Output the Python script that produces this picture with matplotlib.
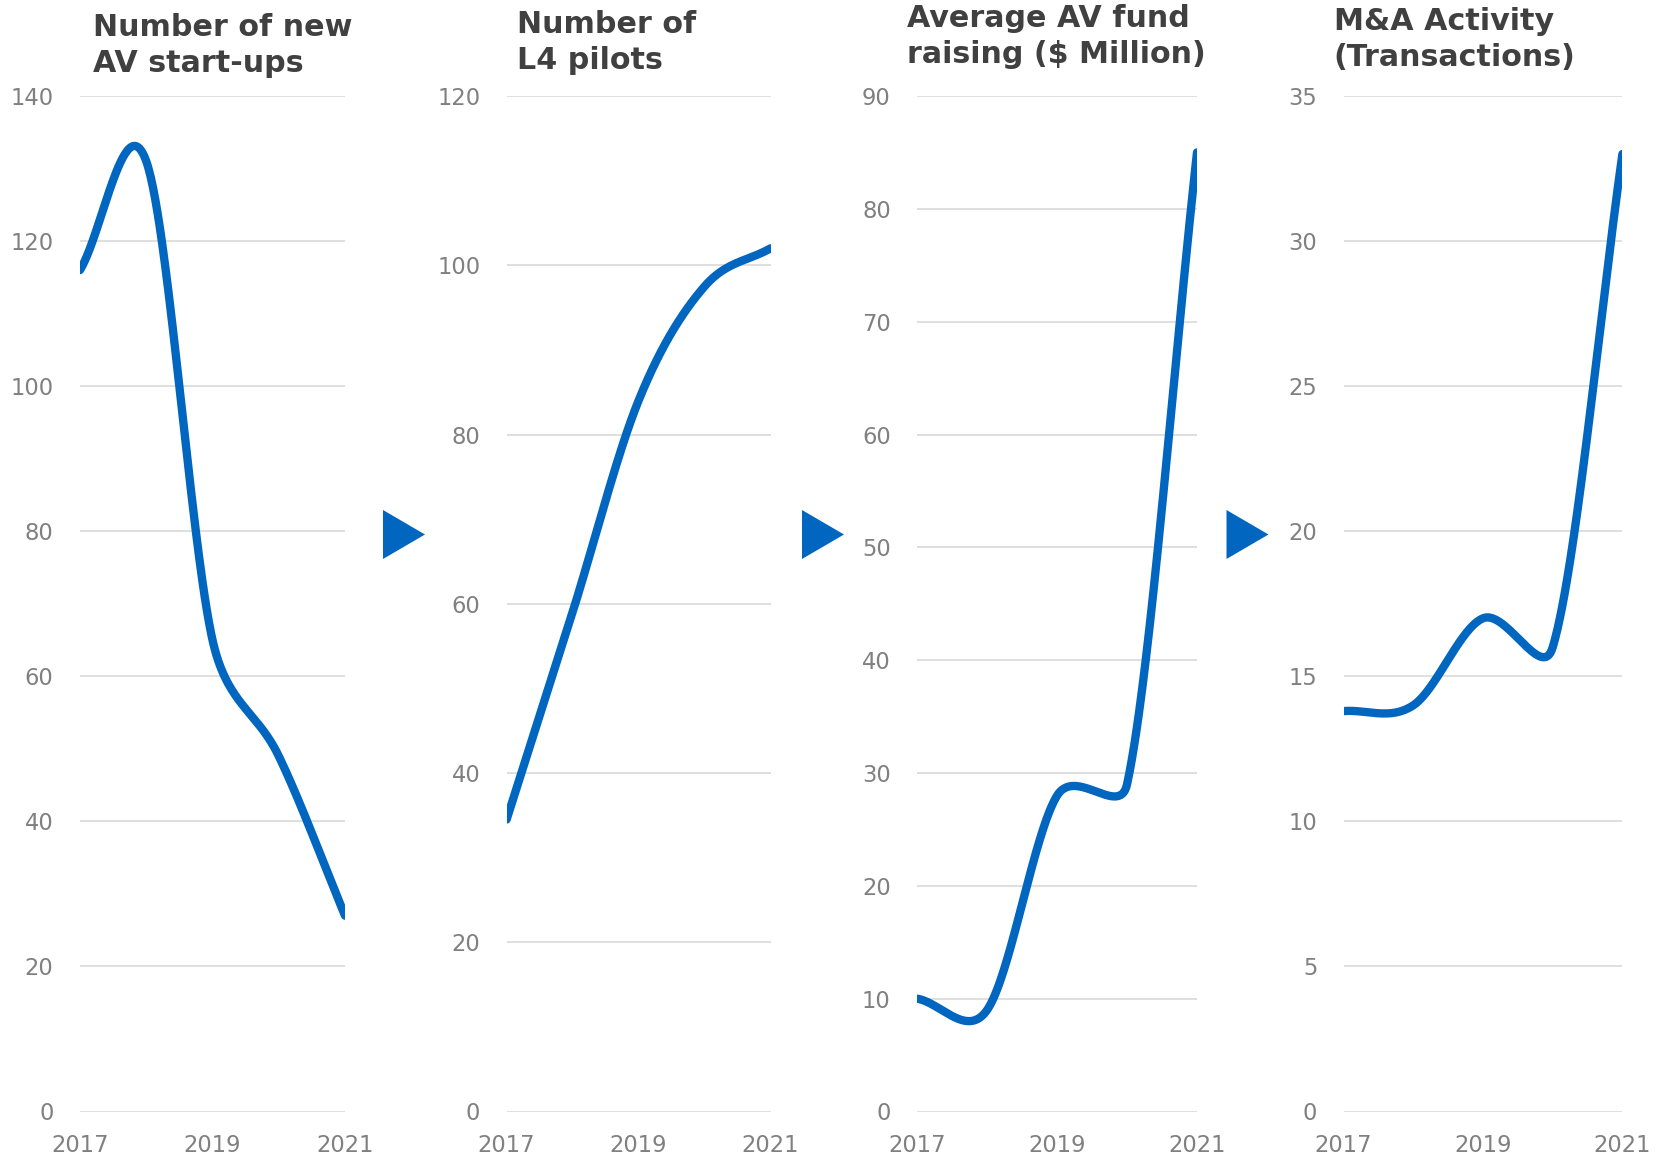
import numpy as np
import matplotlib
matplotlib.use("Agg")
import matplotlib.pyplot as plt
from matplotlib.patches import Polygon

# data
years = [2017, 2018, 2019, 2020, 2021]
startups = [116, 131, 65, 49, 27]
l4_pilots = [34.5, 59, 84, 97.5, 102]
fund_raising = [10, 9, 28, 29, 85]
mna = [13.8, 14, 17, 16, 33]

titles = ["Number of new\nAV start-ups", "Number of\nL4 pilots",
          "Average AV fund\nraising ($ Million)", "M&A Activity\n(Transactions)"]
series = [startups, l4_pilots, fund_raising, mna]
y_max = [140, 120, 90, 35]
y_step = [20, 20, 10, 5]
x_ticks = [2017, 2019, 2021]

BLUE = "#0066BF"
W, H = 1655, 1158

# axes boxes in pixels (left, right), shared top/bottom
x_px = [(80, 345), (506.6, 770.5), (917.2, 1197), (1343.6, 1622.4)]
top_px, bot_px = 96, 1111.5
title_dx = [13, 10, -10, -10]
title_top = [13, 10, 4, 7]


def smooth(xs, ys, sx, sy, clamp=0.5, n=60):
    """Catmull-Rom style bezier in pixel space (control = d/6),
    control length capped to a share of the adjacent segment."""
    P = np.column_stack([np.asarray(xs, float) * sx, np.asarray(ys, float) * sy])
    m = len(P)
    L = [np.hypot(*(P[i + 1] - P[i])) for i in range(m - 1)]

    def ctrl(i, seg, sign):
        if i == 0:
            d = (P[1] - P[0]) / 3
        elif i == m - 1:
            d = (P[-1] - P[-2]) / 3
        else:
            d = (P[i + 1] - P[i - 1]) / 6
        ln = np.hypot(*d)
        cap = clamp * L[seg]
        if ln > cap:
            d = d * cap / ln
        return P[i] + sign * d

    outx, outy = [], []
    for i in range(m - 1):
        p0, p3 = P[i], P[i + 1]
        c1 = ctrl(i, i, 1)
        c2 = ctrl(i + 1, i, -1)
        t = np.linspace(0, 1, n)[:, None]
        q = (1 - t) ** 3 * p0 + 3 * (1 - t) ** 2 * t * c1 + 3 * (1 - t) * t ** 2 * c2 + t ** 3 * p3
        outx.extend(q[:, 0] / sx)
        outy.extend(q[:, 1] / sy)
    return outx, outy


fig = plt.figure(figsize=(W / 100, H / 100), dpi=100)

for i in range(4):
    l, r = x_px[i]
    ax = fig.add_axes([l / W, 1 - bot_px / H, (r - l) / W, (bot_px - top_px) / H])
    ax.set_xlim(2017, 2021)
    ax.set_ylim(0, y_max[i])
    ticks = np.arange(0, y_max[i] + 0.1, y_step[i])
    ax.set_yticks(ticks)
    ax.set_yticklabels([f"{t:g}" for t in ticks])
    ax.set_xticks(x_ticks)
    ax.set_xticklabels([str(t) for t in x_ticks])
    for s in ax.spines.values():
        s.set_visible(False)
    ax.grid(axis="y", color="#d9d9d9", lw=1.2)
    ax.set_axisbelow(True)
    ax.tick_params(length=0, labelsize=16.3, labelcolor="#808080")
    ax.tick_params(axis="y", pad=19)
    ax.tick_params(axis="x", pad=16)

    sx = (r - l) / 4.0
    sy = (bot_px - top_px) / y_max[i]
    cx, cy = smooth(years, series[i], sx, sy)
    ax.plot(cx, cy, color=BLUE, lw=6, solid_capstyle="round", zorder=3)

    fig.text((l + title_dx[i]) / W, 1 - title_top[i] / H, titles[i],
             ha="left", va="top", fontsize=21.7, fontweight="bold",
             color="#404040", linespacing=1.32)

# arrows between panels
for x0 in [383, 802, 1226.5]:
    tri = [(x0 / W, 1 - 510 / H), (x0 / W, 1 - 559 / H), ((x0 + 42) / W, 1 - 534.5 / H)]
    fig.patches.append(Polygon(tri, closed=True, transform=fig.transFigure,
                               facecolor=BLUE, edgecolor="none"))

fig.savefig("out.png", dpi=100)
